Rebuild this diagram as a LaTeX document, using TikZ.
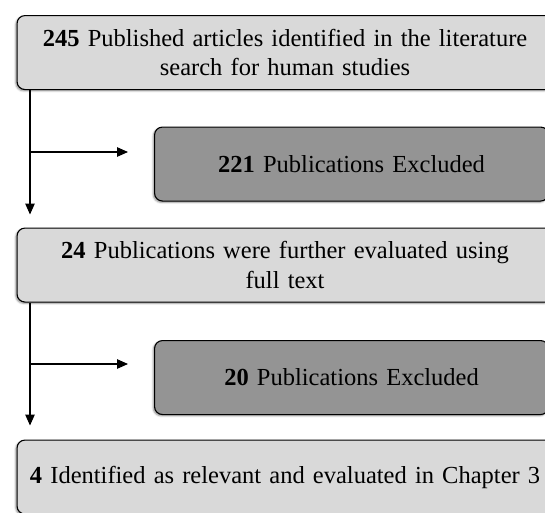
\documentclass[tikz,border=0pt]{standalone}
\usepackage{fontspec}
\setmainfont{Liberation Serif}
\usetikzlibrary{arrows.meta,shadows.blur}
\definecolor{boxlight}{gray}{0.85}
\definecolor{boxdark}{gray}{0.58}

\begin{document}
\begin{tikzpicture}[x=1pt, y=-1pt, >={Triangle[length=11pt,width=9.5pt]},
	every node/.style={font=\fontsize{24.5}{29.5}\selectfont},
	stagebox/.style={draw, line width=1.1pt, rounded corners=8pt, fill=boxlight, anchor=north west,
		minimum width=536pt, minimum height=74pt, text width=530pt, align=center, inner sep=0pt,
		blur shadow={shadow xshift=-1.3pt, shadow yshift=-1.3pt, shadow blur steps=4, shadow opacity=45}},
	dropbox/.style={stagebox, fill=boxdark, minimum width=394pt, text width=385pt},
	flow/.style={->, line width=1.1pt}]
	\useasboundingbox (0,0) rectangle (545,512);
	% boxes
	\node[stagebox] (search) at (16.5,15) {\textbf{245} Published articles identified in the literature\\ search for human studies};
	\node[dropbox] (excl1) at (154,126.5) {\textbf{221} Publications Excluded};
	\node[stagebox] (fulltext) at (16.5,227.5) {\textbf{24} Publications were further evaluated using\\ full text};
	\node[dropbox] (excl2) at (154,340) {\textbf{20} Publications Excluded};
	\node[stagebox] (relevant) at (16.5,439.5) {\textbf{4} Identified as relevant and evaluated in Chapter 3};
	% connectors
	\coordinate (trunk) at (30,0);
	\coordinate (branch1) at (30,152);
	\coordinate (branch2) at (30,364);
	\draw[flow, shorten >=13pt] (trunk |- search.south) -- (trunk |- fulltext.north);
	\draw[flow, shorten >=26pt] (branch1) -- (branch1 -| excl1.west);
	\draw[flow, shorten >=14pt] (trunk |- fulltext.south) -- (trunk |- relevant.north);
	\draw[flow, shorten >=26pt] (branch2) -- (branch2 -| excl2.west);
\end{tikzpicture}
\end{document}
